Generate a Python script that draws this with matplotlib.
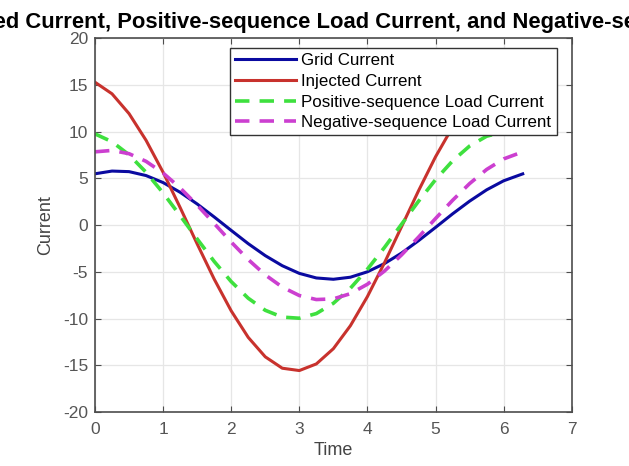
import matplotlib
matplotlib.use("Agg")
import matplotlib.pyplot as plt

# values
time = [0, 0.25, 0.5, 0.75, 1.0, 1.25, 1.5, 1.75, 2.0, 2.25, 2.5, 2.75, 3.0,
        3.25, 3.5, 3.75, 4.0, 4.25, 4.5, 4.75, 5.0, 5.25, 5.5, 5.75, 6.0, 6.28]

grid_current = [5.49, 5.78, 5.72, 5.30, 4.55, 3.51, 2.26, 0.87, -0.57, -1.99,
                -3.27, -4.35, -5.17, -5.66, -5.80, -5.58, -5.00, -4.12, -3.00,
                -1.67, -0.25, 1.20, 2.56, 3.77, 4.74, 5.48]

injected_current = [15.29, 14.05, 11.93, 9.07, 5.65, 1.88, -2.01, -5.78, -9.18,
                    -12.02, -14.10, -15.32, -15.57, -14.86, -13.23, -10.77,
                    -7.65, -4.04, -0.19, 3.67, 7.31, 10.49, 13.02, 14.74, 15.55,
                    15.24]

pos_load_current = [9.76, 8.92, 7.52, 5.65, 3.44, 1.01, -1.48, -3.89, -6.05,
                    -7.83, -9.12, -9.85, -9.97, -9.47, -8.37, -6.76, -4.72,
                    -2.40, 0.08, 2.55, 4.86, 6.87, 8.46, 9.51, 9.98, 9.77]

neg_load_current = [7.84, 7.99, 7.64, 6.82, 5.57, 3.98, 2.14, 0.17, -1.82,
                    -3.69, -5.33, -6.64, -7.54, -7.97, -7.90, -7.34, -6.33,
                    -4.92, -3.20, -1.29, 0.70, 2.65, 4.44, 5.95, 7.08, 7.84]

plt.rcParams['font.family'] = ['Liberation Sans', 'DejaVu Sans']
plt.rcParams['axes.unicode_minus'] = False
axis_col = "#4d4d4d"

fig = plt.figure(figsize=(6.29, 4.66), dpi=100)
ax = fig.add_axes([0.151, 0.116, 0.758, 0.802])

ax.plot(time, grid_current, color="#0a0aa0", lw=2.2, label="Grid Current")
ax.plot(time, injected_current, color="#c8322d", lw=2.2, label="Injected Current")
ax.plot(time, pos_load_current, color="#3ee03e", lw=2.6, ls=(0, (4, 2.8)),
        label="Positive-sequence Load Current")
ax.plot(time, neg_load_current, color="#cc3fd0", lw=2.6, ls=(0, (4, 2.8)),
        label="Negative-sequence Load Current")

ax.set_xlim(0, 7)
ax.set_ylim(-20, 20)
ax.set_xticks(range(0, 8))
ax.set_yticks(range(-20, 21, 5))
ax.grid(True, color="#e6e6e6", lw=0.9)
ax.set_axisbelow(True)
ax.tick_params(direction="in", top=True, right=True, length=4, labelsize=12.5,
               colors=axis_col, labelcolor="#555555")
ax.tick_params(axis="x", pad=7)
ax.tick_params(axis="y", pad=5)
for s in ax.spines.values():
    s.set_color(axis_col)
    s.set_linewidth(1.2)

ax.set_xlabel("Time", fontsize=13, color="#444444", labelpad=4)
ax.set_ylabel("Current", fontsize=13, color="#444444", labelpad=6)
ax.set_title("Grid Current, Injected Current, Positive-sequence Load Current, "
             "and Negative-sequence Load Current",
             fontsize=15.8, fontweight="bold", pad=7, x=0.484)

leg = ax.legend(loc="upper right", bbox_to_anchor=(0.968, 0.973), fontsize=12.2,
                handlelength=3.6, handletextpad=0.3, borderpad=0.3,
                labelspacing=0.33, fancybox=False, framealpha=1, borderaxespad=0)
leg.get_frame().set_edgecolor("#333333")
leg.get_frame().set_linewidth(1.0)

fig.savefig("out.png", dpi=100)
